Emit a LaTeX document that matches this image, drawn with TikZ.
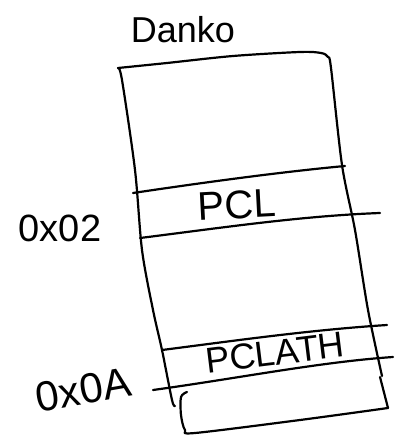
\documentclass[tikz,border=0pt]{standalone}
\usepackage{fontspec}
\setmainfont{Liberation Sans}
\begin{document}
\begin{tikzpicture}[x=1pt,y=-1pt,
  pen/.style={line width=2.2pt, line cap=round, line join=round},
  lbl/.style={inner sep=0pt, font=\fontsize{36}{40}\selectfont}]
\useasboundingbox (0,0) rectangle (395,438);
% outer box: top and right side
\draw[pen] plot[smooth, tension=0.5] coordinates {(118,68) (167,63) (233,56) (300,52) (321,53) (328,57) (331,68) (342,165) (355,230) (368,310) (382,376)};
% left side
\draw[pen] plot[smooth, tension=0.5] coordinates {(118,68) (122,80) (135,170) (142,250) (153,310) (162,350) (172,400) (175,406)};
% horizontal lines
\draw[pen] (133,193) .. controls (200,183) and (280,172) .. (345,166);
\draw[pen] (140,238) .. controls (220,228) and (300,216) .. (380,213);
\draw[pen] (162,350) .. controls (240,340) and (310,330) .. (387,325);
\draw[pen] (153,390) .. controls (240,378) and (320,362) .. (393,357);
% bottom piece
\draw[pen] plot[smooth, tension=0.5] coordinates {(187,392) (181,397) (181,415) (185,430) (195,433) (300,420) (388,408)};
\draw[pen] (388,408) -- (380,377);
% labels
\node[lbl] (danko) at (183,30) {Danko};
\node[lbl, font=\fontsize{40}{44}\selectfont, rotate=3] (pcl) at (237,205) {PCL};
\node[lbl, rotate=7] (pclath) at (275,353) {PCLATH};
\node[lbl, font=\fontsize{38}{42}\selectfont] (a02) at (60,228) {0x02};
\node[lbl, font=\fontsize{42}{46}\selectfont, rotate=10] (a0a) at (83,390) {0x0A};
\end{tikzpicture}
\end{document}
